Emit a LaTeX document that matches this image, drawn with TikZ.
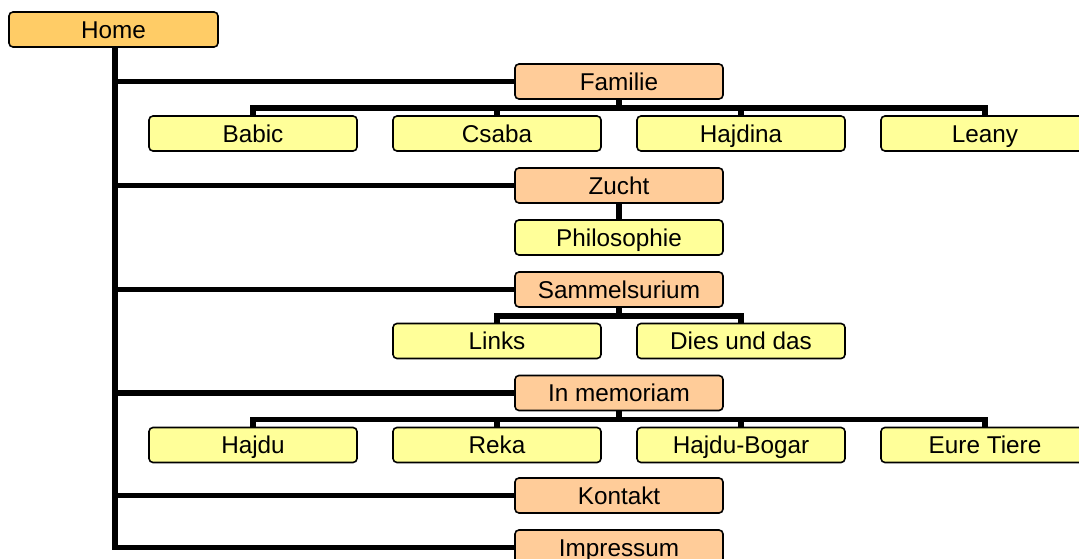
\documentclass[tikz,border=0pt]{standalone}
\usepackage{fontspec}
\setmainfont{Liberation Sans}
\usetikzlibrary{backgrounds}
\definecolor{homefill}{RGB}{255,204,102}
\definecolor{secfill}{RGB}{255,204,153}
\definecolor{subfill}{RGB}{255,255,153}
\tikzset{
  box/.style={draw=black, line width=1.6pt, rounded corners=4pt, minimum width=208pt, minimum height=35pt, inner sep=0pt, text height=17.4pt, text depth=0pt, font=\fontsize{24.3}{28}\selectfont},
  homebox/.style={box, fill=homefill, minimum width=209pt},
  secbox/.style={box, fill=secfill},
  subbox/.style={box, fill=subfill},
  conn/.style={line width=5.5pt, draw=black}
}
\begin{document}
\begin{tikzpicture}[x=1pt,y=-1pt]
\useasboundingbox (0,0) rectangle (1079,559);
\clip (0,0) rectangle (1079,559);
\node[homebox] (home) at (113.5,29.5) {Home};
\node[secbox] (familie) at (619,81.5) {Familie};
\node[subbox] (babic) at (253,133.5) {Babic};
\node[subbox] (csaba) at (497,133.5) {Csaba};
\node[subbox] (hajdina) at (741,133.5) {Hajdina};
\node[subbox] (leany) at (985,133.5) {Leany};
\node[secbox] (zucht) at (619,185.5) {Zucht};
\node[subbox] (philosophie) at (619,237.5) {Philosophie};
\node[secbox] (sammel) at (619,289.5) {Sammelsurium};
\node[subbox] (links) at (497,341) {Links};
\node[subbox] (dies) at (741,341) {Dies und das};
\node[secbox] (inmem) at (619,393) {In memoriam};
\node[subbox] (hajdu) at (253,445) {Hajdu};
\node[subbox] (reka) at (497,445) {Reka};
\node[subbox] (bogar) at (741,445) {Hajdu-Bogar};
\node[subbox] (tiere) at (985,445) {Eure Tiere};
\node[secbox] (kontakt) at (619,495.5) {Kontakt};
\node[secbox] (impressum) at (619,547.5) {Impressum};
\begin{scope}[on background layer]
\foreach \s in {familie,zucht,sammel,inmem,kontakt,impressum}
  \draw[conn] ([xshift=1.5pt]home.south) |- (\s.west);
\foreach \c in {babic,csaba,hajdina,leany}
  \draw[conn] (familie.south) -- ++(0,8) -| (\c.north);
\draw[conn] (zucht.south) -- (philosophie.north);
\foreach \c in {links,dies}
  \draw[conn] (sammel.south) -- ++(0,8) -| (\c.north);
\foreach \c in {hajdu,reka,bogar,tiere}
  \draw[conn] (inmem.south) -- ++(0,8) -| (\c.north);
\end{scope}
\end{tikzpicture}
\end{document}
